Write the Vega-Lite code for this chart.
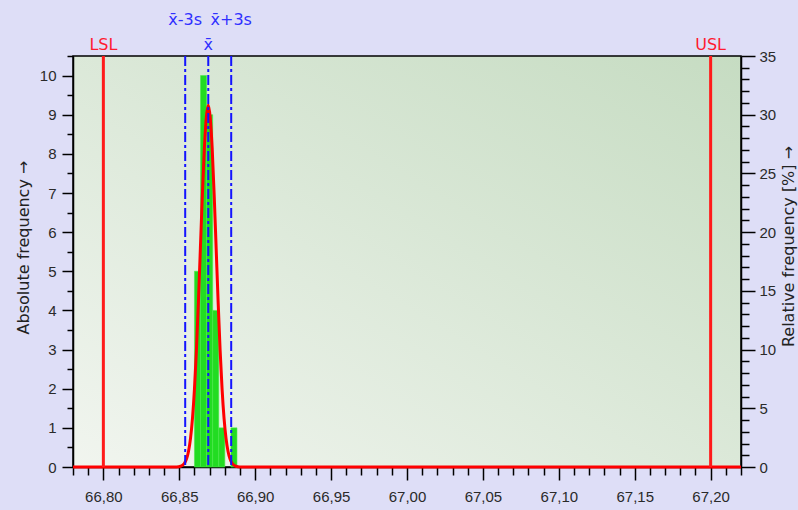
{
  "$schema": "https://vega.github.io/schema/vega-lite/v6.json",
  "width": 668,
  "height": 411,
  "autosize": {"type": "none"},
  "padding": {"left": 73, "top": 56, "right": 57, "bottom": 43},
  "background": "#dedef7",
  "config": {
    "font": "Liberation Sans",
    "view": {
      "fill": {"gradient": "linear", "x1": 0, "y1": 1, "x2": 1, "y2": 0,
        "stops": [{"offset": 0, "color": "#f1f5ef"}, {"offset": 1, "color": "#c6dcc2"}]},
      "stroke": "#000000",
      "strokeWidth": 1.5
    },
    "axis": {
      "grid": false,
      "domainColor": "#000000",
      "domainWidth": 1.5,
      "tickColor": "#000000",
      "tickWidth": 1.5,
      "labelFontSize": 15,
      "labelColor": "#2a2a2a",
      "labelFont": "Liberation Sans",
      "titleFont": "DejaVu Sans",
      "titleFontSize": 16,
      "titleFontWeight": "normal",
      "titleColor": "#222222"
    }
  },
  "datasets": {
    "bars": [
      {"x0": 66.860, "x1": 66.864, "n": 5},
      {"x0": 66.864, "x1": 66.868, "n": 10},
      {"x0": 66.868, "x1": 66.872, "n": 9},
      {"x0": 66.872, "x1": 66.876, "n": 4},
      {"x0": 66.876, "x1": 66.880, "n": 1},
      {"x0": 66.884, "x1": 66.888, "n": 1}
    ],
    "curve": [
      {"x": 66.78, "f": 0},
      {"x": 66.8483, "f": 0.003},
      {"x": 66.8509, "f": 0.020},
      {"x": 66.8522, "f": 0.047},
      {"x": 66.8535, "f": 0.102},
      {"x": 66.8548, "f": 0.209},
      {"x": 66.8561, "f": 0.404},
      {"x": 66.8574, "f": 0.732},
      {"x": 66.8587, "f": 1.245},
      {"x": 66.8600, "f": 1.990},
      {"x": 66.8613, "f": 2.987},
      {"x": 66.8626, "f": 4.212},
      {"x": 66.8639, "f": 5.580},
      {"x": 66.8652, "f": 6.944},
      {"x": 66.8665, "f": 8.119},
      {"x": 66.8678, "f": 8.917},
      {"x": 66.8691, "f": 9.25},
      {"x": 66.8704, "f": 8.917},
      {"x": 66.8717, "f": 8.119},
      {"x": 66.8730, "f": 6.944},
      {"x": 66.8743, "f": 5.580},
      {"x": 66.8756, "f": 4.212},
      {"x": 66.8769, "f": 2.987},
      {"x": 66.8782, "f": 1.990},
      {"x": 66.8795, "f": 1.245},
      {"x": 66.8808, "f": 0.732},
      {"x": 66.8821, "f": 0.404},
      {"x": 66.8834, "f": 0.209},
      {"x": 66.8847, "f": 0.102},
      {"x": 66.8860, "f": 0.047},
      {"x": 66.8873, "f": 0.020},
      {"x": 66.8899, "f": 0.003},
      {"x": 67.22, "f": 0}
    ],
    "limits": [
      {"v": 66.80, "label": "LSL"},
      {"v": 67.20, "label": "USL"}
    ],
    "mean": [
      {"v": 66.8691, "label": "x̄"}
    ],
    "sigma": [
      {"v": 66.8539, "label": "x̄-3s"},
      {"v": 66.8842, "label": "x̄+3s"}
    ],
    "pct": [{"p": 0}, {"p": 35}]
  },
  "layer": [
    {
      "layer": [
        {
          "data": {"name": "bars"},
          "mark": {"type": "rect", "color": "#22dc22", "stroke": "#4ae84a", "strokeWidth": 0.6},
          "encoding": {
            "x": {
              "field": "x0", "type": "quantitative",
              "scale": {"domain": [66.78, 67.22], "nice": false, "zero": false},
              "axis": {
                "title": null,
                "values": [66.78, 66.79, 66.80, 66.81, 66.82, 66.83, 66.84, 66.85, 66.86, 66.87, 66.88, 66.89, 66.90, 66.91, 66.92, 66.93, 66.94, 66.95, 66.96, 66.97, 66.98, 66.99, 67.00, 67.01, 67.02, 67.03, 67.04, 67.05, 67.06, 67.07, 67.08, 67.09, 67.10, 67.11, 67.12, 67.13, 67.14, 67.15, 67.16, 67.17, 67.18, 67.19, 67.20, 67.21, 67.22],
                "tickCount": 200,
                "labelExpr": "abs(datum.value*20 - round(datum.value*20)) < 0.01 ? replace(format(datum.value, '.2f'), '.', ',') : ''",
                "tickSize": {"condition": {"test": "abs(datum.value*20 - round(datum.value*20)) < 0.01", "value": 13}, "value": 8},
                "labelPadding": 9,
                "labelFlush": false,
                "labelOverlap": false
              }
            },
            "x2": {"field": "x1"},
            "y": {
              "field": "n", "type": "quantitative",
              "scale": {"domain": [0, 10.5], "nice": false, "zero": true},
              "axis": {
                "title": "Absolute frequency →",
                "values": [0, 0.5, 1, 1.5, 2, 2.5, 3, 3.5, 4, 4.5, 5, 5.5, 6, 6.5, 7, 7.5, 8, 8.5, 9, 9.5, 10, 10.5],
                "tickCount": 200,
                "labelExpr": "datum.value % 1 == 0 ? format(datum.value, 'd') : ''",
                "tickSize": {"condition": {"test": "datum.value % 1 == 0", "value": 11}, "value": 6},
                "labelPadding": 6,
                "labelOverlap": false,
                "labelFlush": false,
                "titleX": -50,
                "titleY": 191,
                "titleAngle": -90,
                "titleAlign": "center",
                "titleBaseline": "middle"
              }
            },
            "y2": {"datum": 0}
          }
        },
        {
          "data": {"name": "curve"},
          "mark": {"type": "line", "color": "#ff0000", "strokeWidth": 3, "interpolate": "monotone"},
          "encoding": {
            "x": {"field": "x", "type": "quantitative"},
            "y": {"field": "f", "type": "quantitative"}
          }
        },
        {
          "data": {"name": "sigma"},
          "mark": {"type": "rule", "color": "#1414ff", "strokeWidth": 2, "strokeDash": [10, 3, 3, 3]},
          "encoding": {"x": {"field": "v", "type": "quantitative"}}
        },
        {
          "data": {"name": "mean"},
          "mark": {"type": "rule", "color": "#1414ff", "strokeWidth": 2, "strokeDash": [10, 3, 3, 3]},
          "encoding": {"x": {"field": "v", "type": "quantitative"}}
        },
        {
          "data": {"name": "limits"},
          "mark": {"type": "rule", "color": "#ff1a1a", "strokeWidth": 3},
          "encoding": {"x": {"field": "v", "type": "quantitative"}}
        },
        {
          "data": {"name": "limits"},
          "mark": {"type": "text", "color": "#ff1a30", "font": "DejaVu Sans", "fontSize": 16, "baseline": "middle", "align": "center", "dy": -11},
          "encoding": {
            "x": {"field": "v", "type": "quantitative"},
            "y": {"datum": 10.5, "type": "quantitative"},
            "text": {"field": "label"}
          }
        },
        {
          "data": {"name": "mean"},
          "mark": {"type": "text", "color": "#3030ff", "font": "DejaVu Sans", "fontSize": 16, "baseline": "middle", "align": "center", "dy": -11},
          "encoding": {
            "x": {"field": "v", "type": "quantitative"},
            "y": {"datum": 10.5, "type": "quantitative"},
            "text": {"field": "label"}
          }
        },
        {
          "data": {"name": "sigma"},
          "mark": {"type": "text", "color": "#3030ff", "font": "DejaVu Sans", "fontSize": 16, "baseline": "middle", "align": "center", "dy": -36},
          "encoding": {
            "x": {"field": "v", "type": "quantitative"},
            "y": {"datum": 10.5, "type": "quantitative"},
            "text": {"field": "label"}
          }
        }
      ],
      "resolve": {"scale": {"x": "shared", "y": "shared"}, "axis": {"x": "shared", "y": "shared"}}
    },
    {
      "data": {"name": "pct"},
      "mark": {"type": "point", "opacity": 0},
      "encoding": {
        "y": {
          "field": "p", "type": "quantitative",
          "scale": {"domain": [0, 35], "nice": false},
          "axis": {
            "orient": "right",
            "title": "Relative frequency  [%] →",
            "values": [0, 1, 2, 3, 4, 5, 6, 7, 8, 9, 10, 11, 12, 13, 14, 15, 16, 17, 18, 19, 20, 21, 22, 23, 24, 25, 26, 27, 28, 29, 30, 31, 32, 33, 34, 35],
            "tickCount": 200,
            "labelExpr": "datum.value % 5 == 0 ? format(datum.value, 'd') : ''",
            "tickSize": {"condition": {"test": "datum.value % 5 == 0", "value": 14}, "value": 8},
            "labelPadding": 4,
            "labelOverlap": false,
            "labelFlush": false,
            "titleX": 47,
            "titleY": 190,
            "titleAngle": 270,
            "titleAlign": "center",
            "titleBaseline": "middle"
          }
        }
      }
    }
  ],
  "resolve": {"scale": {"y": "independent"}, "axis": {"y": "independent"}}
}
